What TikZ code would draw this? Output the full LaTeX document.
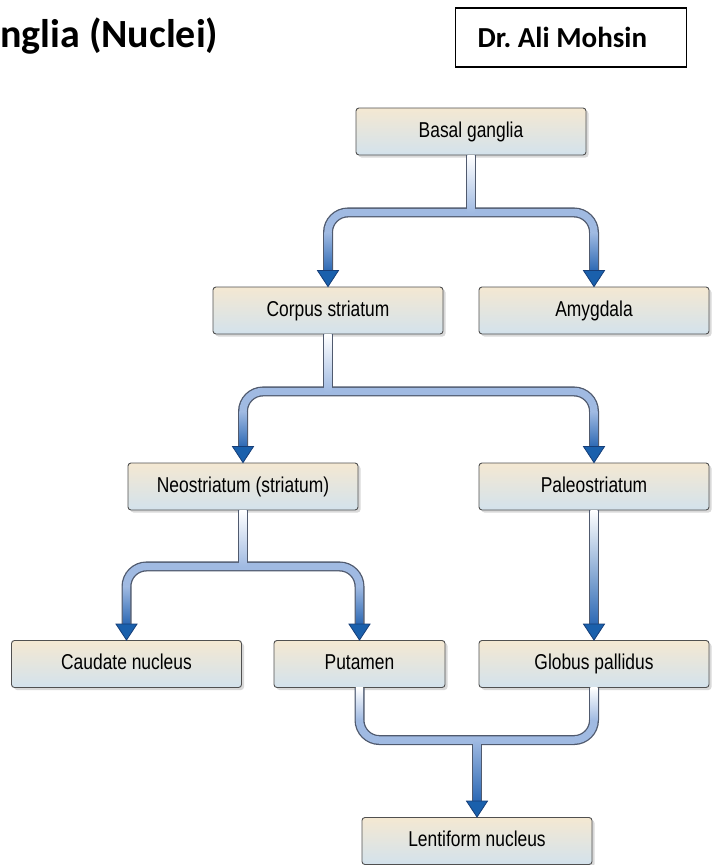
\documentclass[tikz,border=0pt]{standalone}
\usepackage{fontspec}
\setmainfont{Liberation Sans}[FakeStretch=0.81]
\newfontfamily\calibri{Carlito}
\usetikzlibrary{calc,shadows}

\definecolor{boxtop}{RGB}{244,232,210}
\definecolor{boxbot}{RGB}{211,226,236}
\definecolor{boxedge}{RGB}{80,80,80}
\definecolor{tubeedge}{RGB}{80,90,110}
\definecolor{tubefill}{RGB}{160,186,226}
\definecolor{legdark}{RGB}{45,105,180}
\definecolor{arrowblue}{RGB}{26,96,172}
\definecolor{arrowedge}{RGB}{22,62,120}

\tikzset{
  nucleus/.style={rectangle, rounded corners=3pt, draw=boxedge, line width=0.9pt,
    top color=boxtop, bottom color=boxbot, minimum width=230pt, minimum height=47pt,
    inner sep=0pt, text height=15pt, text depth=4pt,
    font=\fontsize{21.5}{24}\selectfont,
    drop shadow={shadow xshift=2.5pt, shadow yshift=-2.5pt, opacity=0.3}},
  tubeout/.style={line width=10pt, draw=tubeedge, rounded corners=20pt},
  tubein/.style={line width=7.4pt, draw=tubefill, rounded corners=20pt}
}

% shaded piece of a tube, from a top point down to a bottom point
\newcommand{\fadeseg}[4]{\shade[top color=#3, bottom color=#4]
  ($(#1)+(-3.7,0)$) rectangle ($(#2)+(3.7,0)$);}
% arrow head, tip on the given point
\newcommand{\arrowhd}[1]{\filldraw[fill=arrowblue, draw=arrowedge, line width=0.8pt]
  (#1) -- ++(-10.5,-16) -- ++(21,0) -- cycle;}

\begin{document}
\frenchspacing
\begin{tikzpicture}[x=1pt, y=-1pt]
\useasboundingbox (0,0) rectangle (718,865);

% heading
\node[anchor=base west, inner sep=0pt, font=\calibri\bfseries\fontsize{40}{42}\selectfont] (title) at (0,47) {nglia (Nuclei)};
\node[draw, line width=1.2pt, anchor=west, minimum height=59pt, inner xsep=22pt, inner ysep=0pt, font=\calibri\bfseries\fontsize{29}{31}\selectfont] (author) at (455,37.5) {\hbox to 187pt{Dr. Ali Mohsin\hfil}};

% boxes
\node[nucleus] (bg) at (471,131.5) {Basal ganglia};
\node[nucleus] (cs) at (328,310.5) {Corpus striatum};
\node[nucleus] (amy) at (594,310.5) {Amygdala};
\node[nucleus] (neo) at (243,486.5) {Neostriatum (striatum)};
\node[nucleus] (paleo) at (594,486.5) {Paleostriatum};
\node[nucleus] (caud) at (126.5,664) {Caudate nucleus};
\node[nucleus, minimum width=171pt] (put) at (359.5,664) {Putamen};
\node[nucleus] (glob) at (594,664) {Globus pallidus};
\node[nucleus] (lent) at (477,841) {Lentiform nucleus};

% basal ganglia -> corpus striatum, amygdala
\coordinate (j1) at ($(bg.south)+(0,57)$);
\draw[tubeout] (bg.south) -- (j1);
\draw[tubeout] ($(cs.north)+(0,-16)$) |- (j1) -| ($(amy.north)+(0,-16)$);
\draw[tubein] (bg.south) -- (j1);
\draw[tubein] ($(cs.north)+(0,-16)$) |- (j1) -| ($(amy.north)+(0,-16)$);
\fadeseg{bg.south}{j1}{white}{tubefill}
\fadeseg{$(j1 -| cs.north)+(0,20)$}{$(cs.north)+(0,-16)$}{tubefill}{legdark}
\fadeseg{$(j1 -| amy.north)+(0,20)$}{$(amy.north)+(0,-16)$}{tubefill}{legdark}
\arrowhd{cs.north}
\arrowhd{amy.north}

% corpus striatum -> neostriatum, paleostriatum
\coordinate (j2) at ($(cs.south)+(0,57)$);
\draw[tubeout] (cs.south) -- (j2);
\draw[tubeout] ($(neo.north)+(0,-16)$) |- (j2) -| ($(paleo.north)+(0,-16)$);
\draw[tubein] (cs.south) -- (j2);
\draw[tubein] ($(neo.north)+(0,-16)$) |- (j2) -| ($(paleo.north)+(0,-16)$);
\fadeseg{cs.south}{j2}{white}{tubefill}
\fadeseg{$(j2 -| neo.north)+(0,20)$}{$(neo.north)+(0,-16)$}{tubefill}{legdark}
\fadeseg{$(j2 -| paleo.north)+(0,20)$}{$(paleo.north)+(0,-16)$}{tubefill}{legdark}
\arrowhd{neo.north}
\arrowhd{paleo.north}

% neostriatum -> caudate nucleus, putamen
\coordinate (j3) at ($(neo.south)+(0,56)$);
\draw[tubeout] (neo.south) -- (j3);
\draw[tubeout] ($(caud.north)+(0,-16)$) |- (j3) -| ($(put.north)+(0,-16)$);
\draw[tubein] (neo.south) -- (j3);
\draw[tubein] ($(caud.north)+(0,-16)$) |- (j3) -| ($(put.north)+(0,-16)$);
\fadeseg{neo.south}{j3}{white}{tubefill}
\fadeseg{$(j3 -| caud.north)+(0,20)$}{$(caud.north)+(0,-16)$}{tubefill}{legdark}
\fadeseg{$(j3 -| put.north)+(0,20)$}{$(put.north)+(0,-16)$}{tubefill}{legdark}
\arrowhd{caud.north}
\arrowhd{put.north}

% paleostriatum -> globus pallidus
\draw[tubeout] (paleo.south) -- ($(glob.north)+(0,-16)$);
\shade[top color=white, middle color=tubefill, bottom color=legdark]
  ($(paleo.south)+(-3.7,0)$) rectangle ($(glob.north)+(3.7,-16)$);
\arrowhd{glob.north}

% putamen, globus pallidus -> lentiform nucleus
\coordinate (j4) at ($(lent.north)+(0,-77)$);
\draw[tubeout] (put.south) |- (j4) -| (glob.south);
\draw[tubeout] (j4) -- ($(lent.north)+(0,-16)$);
\draw[tubein] (put.south) |- (j4) -| (glob.south);
\draw[tubein] (j4) -- ($(lent.north)+(0,-16)$);
\fadeseg{put.south}{$(j4 -| put.south)+(0,-20)$}{white}{tubefill}
\fadeseg{glob.south}{$(j4 -| glob.south)+(0,-20)$}{white}{tubefill}
\fadeseg{j4}{$(lent.north)+(0,-16)$}{tubefill}{legdark}
\arrowhd{lent.north}
\end{tikzpicture}
\end{document}
